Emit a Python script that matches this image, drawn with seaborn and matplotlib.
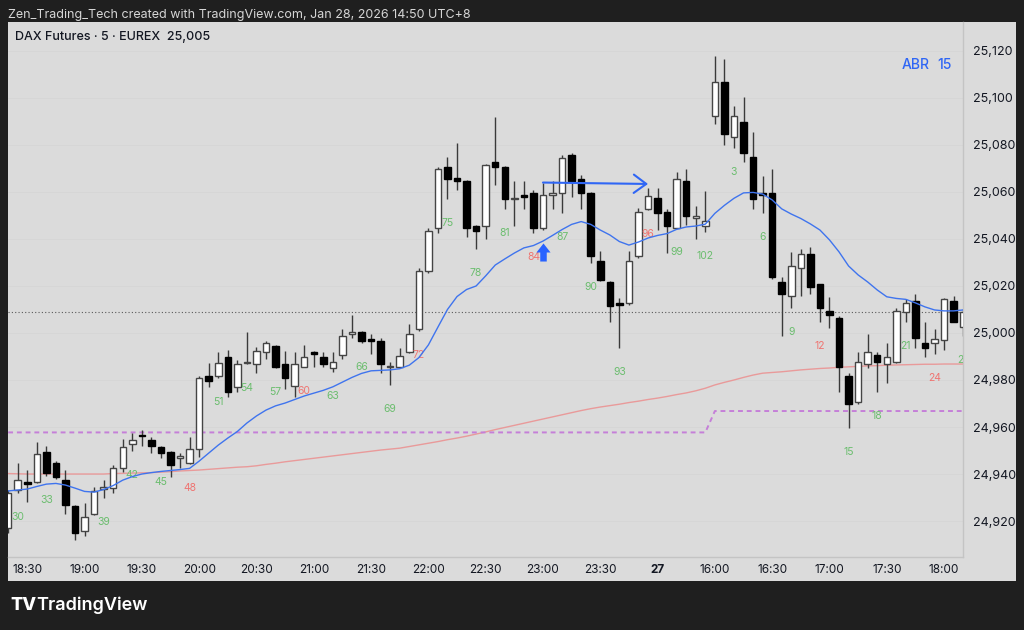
import numpy as np
import pandas as pd
import matplotlib
matplotlib.use("Agg")
import matplotlib.pyplot as plt
from matplotlib.path import Path
import seaborn as sns

# ---- data (5 min DAX futures) ----
bar_numbers = list(range(29, 103)) + list(range(1, 28))

opens = [24917, 24933, 24936.7, 24936.5, 24949.5, 24944.6, 24937.4, 24926.5, 24915.9, 24922.8,
         24933.6, 24933.9, 24942.7, 24952.8, 24956.4, 24954.5, 24951.6, 24949.5, 24947.0, 24944.6,
         24950.6, 24981.7, 24981.7, 24989.7, 24976.9, 24987.3, 24986.8, 24991.8, 24994.6, 24986.7,
         24977.6, 24985.7, 24991.6, 24989.7, 24985.0, 24990.6, 24999.6, 25000.6, 24997.2, 24996.7,
         24985.5, 24985.7, 24991.8, 25001.7, 25026.5, 25044.8, 25070.8, 25065.8, 25064.7, 25045.7,
         25045.7, 25072.6, 25070.8, 25056.9, 25058.7, 25059.7, 25044.8, 25058.7, 25059.7, 25075.7,
         25065.5, 25059.7, 25030.6, 25021.7, 25012.8, 25012.6, 25032.8, 25052.6, 25057.6, 25051.6,
         25044.8, 25064.7, 25048.8, 25045.7,
         25092.5, 25106.7, 25083.5, 25089.6, 25074.8, 25059.5, 25059.7, 25021.6, 25015.7, 25027.8,
         25033.5, 25020.7, 25009.5, 25006.5, 24981.7, 24970.8, 24986.7, 24990.6, 24986.7, 24987.5,
         25008.8, 25013.6, 24995.6, 24995.6, 24997.0, 25013.6, 25002.7]
highs = [24933, 24944.5, 24941.7, 24953.7, 24952.0, 24945.5, 24941.7, 24927.0, 24927.5, 24934.6,
         24937.4, 24943.8, 24954.8, 24957.3, 24958.7, 24955.6, 24952.0, 24950.0, 24948.8, 24955.6,
         24981.7, 24987.4, 24991.8, 24992.8, 24988.5, 25000.6, 24993.9, 24996.7, 24995.0, 24992.5,
         24991.8, 24994.9, 24992.2, 24991.8, 24991.8, 25001.7, 25007.7, 25001.0, 24999.4, 24997.7,
         24987.5, 24993.7, 25003.8, 25027.5, 25044.8, 25070.8, 25074.8, 25080.7, 25065.0, 25046.0,
         25071.8, 25091.8, 25071.0, 25064.7, 25064.7, 25060.9, 25064.0, 25064.7, 25075.7, 25076.7,
         25067.2, 25060.0, 25034.9, 25022.0, 25014.8, 25034.9, 25053.0, 25061.6, 25061.6, 25052.8,
         25068.6, 25069.7, 25054.0, 25060.6,
         25117.9, 25116.6, 25096.7, 25100.6, 25085.7, 25066.8, 25069.7, 25023.7, 25034.6, 25035.7,
         25036.7, 25021.0, 25015.4, 25007.4, 24982.9, 24991.8, 24999.6, 24991.8, 24995.6, 25010.5,
         25014.5, 25016.6, 25004.5, 25001.7, 25014.8, 25015.7, 25010.0]
lows = [24915, 24932, 24928, 24936, 24939, 24937.7, 24922.8, 24912, 24913.6, 24922.5,
        24930, 24931.8, 24941, 24949.8, 24951.9, 24948.8, 24946.9, 24938.9, 24942.7, 24944.3,
        24947.4, 24976.9, 24980.7, 24972.9, 24975, 24986.8, 24982.9, 24988.8, 24985, 24976,
        24972.9, 24985.5, 24985.7, 24985.7, 24983.5, 24988.8, 24998, 24995.6, 24990.9, 24983.1,
        24977.9, 24985.5, 24991.5, 25001, 25025.7, 25042.7, 25057, 25060.9, 25040.7, 25035.7,
        25039.9, 25063, 25052.8, 25045.7, 25052.8, 25042.7, 25043.8, 25052.8, 25050.9, 25057.7,
        25052.8, 25029.9, 25022.3, 25004.8, 24993.7, 25011.8, 25032, 25052.3, 25043.8, 25033.9,
        25044.5, 25046, 25039.9, 25042.9,
        25088.8, 25079.9, 25078.9, 25072.9, 25052.8, 25050.9, 25022.8, 24998.9, 25010.8, 25015.7,
        25016.6, 25004.8, 25002, 24974.8, 24959.7, 24969.8, 24985, 24974.8, 24978.9, 24987.3,
        25004.8, 24993.7, 24989.9, 24990.9, 24992.8, 25004.5, 24998.9]
closes = [24932, 24937.5, 24935.7, 24948.5, 24940.6, 24938.9, 24926.8, 24914.8, 24921.6, 24932.8,
          24934.6, 24942.4, 24951.6, 24954.5, 24956.0, 24951.9, 24948.8, 24943.8, 24947.2, 24950.5,
          24980.7, 24979.7, 24987.4, 24974.8, 24986.7, 24987.6, 24992.3, 24995.6, 24985.7, 24980.7,
          24986.7, 24989.7, 24991.2, 24986.8, 24987.5, 24998.7, 25000.6, 24996.7, 24996.8, 24986.8,
          24985.9, 24990.3, 24999.6, 25026.5, 25043.5, 25069.7, 25065.5, 25064.7, 25044.8, 25043.5,
          25071.5, 25070.8, 25056.9, 25057.6, 25057.7, 25044.8, 25058.7, 25059.4, 25074.6, 25064.7,
          25059.7, 25032.8, 25022.6, 25011.5, 25011.8, 25030.6, 25051.6, 25058.4, 25050.9, 25045.5,
          25065.5, 25049.8, 25049.8, 25047.7,
          25106.7, 25084.7, 25092.5, 25076.7, 25056.9, 25058.8, 25023.7, 25016.6, 25028.5, 25033.5,
          25019.7, 25010.8, 25007.7, 24985.7, 24969.8, 24987.5, 24991.8, 24987.8, 24989.7, 25009.5,
          25012.6, 24997.7, 24993.7, 24997.4, 25014.5, 25004.8, 25009.0]

# fast moving average (blue)
ema_fast = [24932.8, 24933.2, 24933.6, 24934.7, 24935.7, 24936.0, 24935.3, 24934.0, 24932.6, 24932.3,
            24933.4, 24935.1, 24937.4, 24938.9, 24940.0, 24940.6, 24941.1, 24941.5, 24941.9, 24942.4,
            24945.5, 24948.9, 24952.3, 24955.3, 24958.1, 24961.7, 24964.7, 24967.2, 24969.0, 24970.2,
            24971.7, 24973.2, 24974.4, 24975.6, 24977.1, 24979.1, 24981.1, 24982.8, 24983.9, 24984.1,
            24984.3, 24984.8, 24986.3, 24989.5, 24994.9, 25002.5, 25010.0, 25015.5, 25018.5, 25020.0,
            25024.3, 25028.9, 25031.5, 25034.0, 25036.2, 25037.2, 25039.1, 25041.5, 25044.0, 25046.2,
            25047.4, 25046.2, 25043.8, 25041.7, 25038.9, 25037.4, 25038.7, 25040.4, 25041.5, 25042.3,
            25044.1, 25045.1, 25045.5, 25046.3,
            25050.9, 25054.3, 25057.3, 25059.6, 25059.8, 25059.1, 25056.6, 25052.8, 25050.6, 25048.7,
            25046.4, 25043.8, 25039.6, 25034.5, 25028.5, 25024.7, 25021.7, 25018.3, 25015.4, 25014.7,
            25014.3, 25012.8, 25011.1, 25009.8, 25009.4, 25009.4, 25009.8]

# slow moving average (red)
ma_slow = [24940.2, 24940.1, 24940.0, 24940.0, 24940.0, 24940.0, 24940.0, 24940.0, 24940.0, 24940.0,
           24940.0, 24940.2, 24940.3, 24940.4, 24940.5, 24940.6, 24940.8, 24941.0, 24941.3, 24941.5,
           24941.7, 24942.0, 24942.3, 24942.6, 24942.9, 24943.1, 24943.5, 24944.1, 24944.6, 24945.2,
           24945.7, 24946.2, 24946.7, 24947.2, 24947.7, 24948.2, 24948.7, 24949.2, 24949.7, 24950.2,
           24950.6, 24951.0, 24951.7, 24952.4, 24953.1, 24953.8, 24954.6, 24955.3, 24956.1, 24957.0,
           24957.9, 24958.9, 24959.8, 24960.7, 24961.6, 24962.5, 24963.4, 24964.3, 24965.2, 24966.1,
           24967.0, 24967.8, 24968.5, 24969.1, 24969.7, 24970.4, 24971.0, 24971.7, 24972.3, 24973.0,
           24973.8, 24974.5, 24975.4, 24976.5,
           24977.9, 24979.0, 24980.0, 24981.1, 24982.1, 24982.9, 24983.2, 24983.5, 24983.9, 24984.3,
           24984.6, 24984.9, 24985.1, 24985.4, 24985.6, 24985.8, 24986.0, 24986.1, 24986.3, 24986.4,
           24986.5, 24986.6, 24986.7, 24986.7, 24986.8, 24986.8, 24986.8]

# previous-session level (violet dashed)
level_session1 = 24957.7
level_session2 = 24966.8
session1_len = 74

last_price = 25009.0

time_tick_bars = [1, 7, 13, 19, 25, 31, 37, 43, 49, 55, 61, 67, 73, 79, 85, 91, 97]
time_tick_labels = ["18:30", "19:00", "19:30", "20:00", "20:30", "21:00", "21:30", "22:00",
                    "22:30", "23:00", "23:30", "27", "16:00", "16:30", "17:00", "17:30", "18:00"]
price_ticks = [24920, 24940, 24960, 24980, 25000, 25020, 25040, 25060, 25080, 25100, 25120]

signal_bar, signal_price = 55, 25034.5
arrow_start = (55, 25064.0)
arrow_end = (66, 25063.4)

# ---- style ----
sns.set_theme(style="white")
plt.rcParams['font.family'] = ['Inter', 'DejaVu Sans']

BG = '#dbdbdb'
FRAME = '#1f1f1f'
W, H = 1024, 630

df = pd.DataFrame({'open': opens, 'high': highs, 'low': lows, 'close': closes,
                   'ema': ema_fast, 'sma': ma_slow, 'bar': bar_numbers})
df['x'] = np.arange(len(df)) - 1
df['level'] = [level_session1] * session1_len + [level_session2] * (len(df) - session1_len)

fig = plt.figure(figsize=(W / 100, H / 100), dpi=100, facecolor=FRAME)

def fx(px):
    return px / W

def fy(py):
    return 1 - py / H

# light panel behind chart + scales
panel = fig.add_axes([fx(8), fy(581), fx(1016 - 8), (581 - 22) / H])
panel.set_facecolor(BG)
panel.set_xticks([]); panel.set_yticks([])
for s in panel.spines.values():
    s.set_visible(False)

ax = fig.add_axes([fx(8), fy(557), fx(963 - 8), (557 - 22) / H])
ax.set_facecolor(BG)
ax.set_xlim(-1.016, 98.98)
ax.set_ylim(24904.7, 25132.3)

# faint grid
for p in price_ticks:
    ax.axhline(p, color='#d6d6d6', lw=0.6, zorder=0)

# candles
up = df['close'] >= df['open']
body_lo = df[['open', 'close']].min(axis=1)
body_h = (df['close'] - df['open']).abs().clip(lower=0.5)
ax.vlines(df['x'], df['low'], df['high'], color='#3a3a3a', lw=1, zorder=2)
ax.bar(df['x'][up], body_h[up], bottom=body_lo[up], width=0.68,
       color='white', edgecolor='#454545', linewidth=1, zorder=3)
ax.bar(df['x'][~up], body_h[~up], bottom=body_lo[~up], width=0.68,
       color='black', edgecolor='black', linewidth=1, zorder=3)

# moving averages
sns.lineplot(data=df, x='x', y='sma', ax=ax, color='#e99a9a', lw=1, zorder=1)
sns.lineplot(data=df, x='x', y='ema', ax=ax, color='#3f74ee', lw=1, zorder=4)
ax.plot(df['x'], df['level'], color='#c57fd8', lw=1.4, ls=(0, (2.5, 2)), zorder=1)
ax.axhline(last_price, color='#5a5a5a', lw=0.8, ls=(0, (1, 2)), zorder=1)

# bar counts every 3 bars, hourly in red (only those that fall inside the pane)
fig.canvas.draw()
y_bottom_px = ax.transData.transform((0, ax.get_ylim()[0]))[1]
for _, r in df.iterrows():
    n = int(r['bar'])
    if n % 3 != 0:
        continue
    low_px = ax.transData.transform((r['x'], r['low']))[1]
    if low_px - 24 - 5 < y_bottom_px:
        continue
    col = '#ef7471' if n % 12 == 0 else '#6bbd6e'
    ax.annotate(str(n), (r['x'], r['low']), xytext=(0, -24), textcoords='offset pixels',
                ha='center', va='center', fontsize=7.5, color=col, clip_on=True)

# signal arrow marker
arrow_marker = Path([(-0.78, 0.0), (0.0, 1.0), (0.78, 0.0), (0.36, 0.0), (0.36, -1.0),
                     (-0.36, -1.0), (-0.36, 0.0), (-0.78, 0.0)], closed=True)
ax.plot([signal_bar], [signal_price], marker=arrow_marker, markersize=13,
        color='#2962ff', markeredgewidth=0, zorder=5)

# measured horizontal arrow
ax.annotate('', xy=arrow_end, xytext=arrow_start,
            arrowprops=dict(arrowstyle='->, head_length=0.75, head_width=0.55',
                            color='#2f66f5', lw=1.5, shrinkA=0, shrinkB=0), zorder=5)

ax.set_xlabel(''); ax.set_ylabel('')

ax.yaxis.tick_right()
ax.set_yticks(price_ticks)
ax.set_yticklabels([f"{p:,}" for p in price_ticks])
ax.tick_params(axis='y', length=0, pad=7, labelsize=9, labelcolor='#131722')
ax.set_xticks(time_tick_bars)
ax.set_xticklabels(time_tick_labels)
ax.tick_params(axis='x', length=0, pad=5, labelsize=8.5, labelcolor='#131722')
for t in ax.get_xticklabels():
    if t.get_text() == '27':
        t.set_fontweight('bold')
for t in ax.get_yticklabels():
    t.set_horizontalalignment('left')

for name, s in ax.spines.items():
    s.set_visible(name in ('right', 'bottom'))
    s.set_color('#c4c4c4')
    s.set_linewidth(1)

# texts
fig.text(fx(8), fy(15), "Zen_Trading_Tech created with TradingView.com, Jan 28, 2026 14:50 UTC+8",
         color='#d6d6d6', fontsize=9, va='center', ha='left')
fig.text(fx(15), fy(37), "DAX Futures \u00b7 5 \u00b7 EUREX  25,005",
         color='#131722', fontsize=9, va='center', ha='left', fontweight='medium')
fig.text(fx(902), fy(65), "ABR", color='#2f66f5', fontsize=10, va='center', ha='left',
         fontweight='medium')
fig.text(fx(937), fy(65), "15", color='#2f66f5', fontsize=10, va='center', ha='left',
         fontweight='medium')
fig.text(fx(10), fy(605), "TV", color='white', fontsize=13, va='center', ha='left',
         fontweight='heavy')
fig.text(fx(36), fy(605), "TradingView", color='white', fontsize=13, va='center', ha='left',
         fontweight='semibold')

fig.savefig('out.png', dpi=100, facecolor=FRAME)
